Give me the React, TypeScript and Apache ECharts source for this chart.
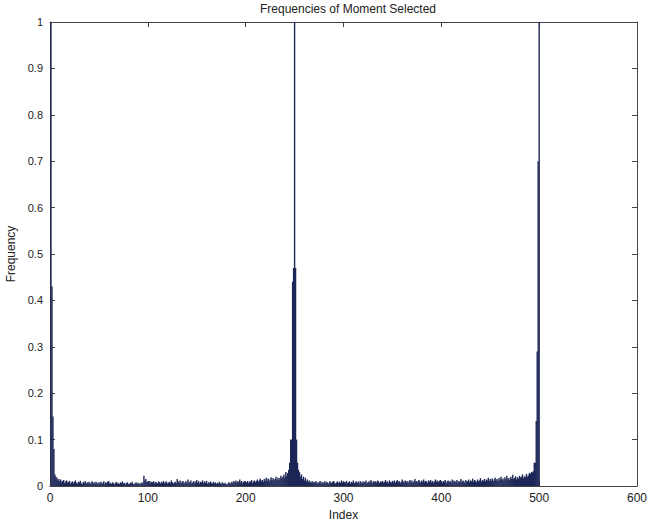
import React, { useEffect, useRef } from "react";
import * as echarts from "echarts";

const TITLE = "Frequencies of Moment Selected";
const X_NAME = "Index";
const Y_NAME = "Frequency";

// Frequencies for index 1..500, in blocks of 50
const seg1 = [1.0, 0.43, 0.15, 0.08, 0.025, 0.02, 0.018, 0.012, 0.015, 0.01, 0.014, 0.008, 0.011, 0.013, 0.006, 0.01, 0.012, 0.007, 0.009, 0.011, 0.005, 0.008, 0.01, 0.006, 0.009, 0.012, 0.007, 0.005, 0.009, 0.008, 0.011, 0.006, 0.004, 0.009, 0.007, 0.01, 0.005, 0.008, 0.006, 0.009, 0.004, 0.007, 0.01, 0.006, 0.008, 0.005, 0.009, 0.007, 0.004, 0.008];
const seg2 = [0.006, 0.009, 0.005, 0.007, 0.01, 0.004, 0.008, 0.006, 0.009, 0.011, 0.005, 0.007, 0.004, 0.008, 0.006, 0.003, 0.007, 0.009, 0.005, 0.006, 0.004, 0.008, 0.006, 0.01, 0.005, 0.007, 0.003, 0.006, 0.008, 0.005, 0.004, 0.007, 0.006, 0.009, 0.005, 0.003, 0.006, 0.008, 0.005, 0.007, 0.004, 0.006, 0.005, 0.008, 0.006, 0.022, 0.012, 0.015, 0.008, 0.01];
const seg3 = [0.007, 0.011, 0.006, 0.009, 0.008, 0.01, 0.005, 0.009, 0.007, 0.006, 0.01, 0.008, 0.005, 0.009, 0.007, 0.011, 0.006, 0.008, 0.01, 0.005, 0.007, 0.009, 0.006, 0.012, 0.008, 0.005, 0.007, 0.009, 0.006, 0.015, 0.01, 0.007, 0.012, 0.006, 0.009, 0.011, 0.005, 0.008, 0.01, 0.006, 0.014, 0.007, 0.009, 0.012, 0.005, 0.008, 0.011, 0.006, 0.009, 0.013];
const seg4 = [0.007, 0.01, 0.005, 0.009, 0.008, 0.012, 0.006, 0.01, 0.007, 0.011, 0.005, 0.008, 0.006, 0.01, 0.007, 0.005, 0.009, 0.006, 0.008, 0.004, 0.007, 0.005, 0.009, 0.006, 0.004, 0.008, 0.006, 0.005, 0.007, 0.004, 0.003, 0.006, 0.008, 0.005, 0.007, 0.009, 0.006, 0.011, 0.008, 0.012, 0.007, 0.01, 0.009, 0.014, 0.008, 0.011, 0.006, 0.009, 0.01, 0.007];
const seg5 = [0.008, 0.011, 0.006, 0.01, 0.009, 0.013, 0.007, 0.01, 0.012, 0.008, 0.011, 0.014, 0.009, 0.012, 0.016, 0.01, 0.013, 0.009, 0.015, 0.011, 0.018, 0.012, 0.016, 0.01, 0.014, 0.019, 0.013, 0.017, 0.012, 0.015, 0.02, 0.014, 0.018, 0.013, 0.017, 0.022, 0.016, 0.02, 0.025, 0.018, 0.03, 0.022, 0.028, 0.035, 0.05, 0.1, 0.1, 0.44, 0.47, 1.0];
const seg6 = [0.47, 0.1, 0.05, 0.035, 0.03, 0.02, 0.025, 0.015, 0.02, 0.012, 0.018, 0.01, 0.014, 0.008, 0.012, 0.009, 0.007, 0.011, 0.006, 0.009, 0.008, 0.01, 0.005, 0.008, 0.007, 0.011, 0.006, 0.009, 0.005, 0.008, 0.01, 0.006, 0.009, 0.007, 0.005, 0.01, 0.008, 0.006, 0.009, 0.011, 0.007, 0.005, 0.008, 0.01, 0.006, 0.009, 0.007, 0.012, 0.008, 0.006];
const seg7 = [0.009, 0.007, 0.011, 0.006, 0.008, 0.01, 0.005, 0.009, 0.007, 0.012, 0.006, 0.008, 0.01, 0.007, 0.009, 0.005, 0.011, 0.008, 0.006, 0.01, 0.007, 0.009, 0.012, 0.006, 0.008, 0.01, 0.007, 0.013, 0.009, 0.006, 0.011, 0.008, 0.01, 0.007, 0.012, 0.009, 0.006, 0.01, 0.008, 0.011, 0.007, 0.009, 0.013, 0.008, 0.01, 0.006, 0.012, 0.009, 0.007, 0.011];
const seg8 = [0.008, 0.012, 0.007, 0.01, 0.013, 0.008, 0.011, 0.006, 0.009, 0.014, 0.01, 0.007, 0.012, 0.009, 0.011, 0.006, 0.01, 0.013, 0.008, 0.012, 0.007, 0.01, 0.015, 0.009, 0.011, 0.008, 0.013, 0.01, 0.007, 0.012, 0.009, 0.014, 0.008, 0.011, 0.01, 0.006, 0.012, 0.009, 0.013, 0.008, 0.011, 0.007, 0.01, 0.014, 0.009, 0.012, 0.008, 0.011, 0.013, 0.009];
const seg9 = [0.007, 0.011, 0.009, 0.013, 0.006, 0.01, 0.012, 0.008, 0.011, 0.007, 0.014, 0.009, 0.012, 0.008, 0.01, 0.013, 0.007, 0.011, 0.009, 0.015, 0.008, 0.012, 0.01, 0.007, 0.013, 0.009, 0.011, 0.014, 0.008, 0.012, 0.01, 0.016, 0.009, 0.013, 0.011, 0.008, 0.014, 0.01, 0.012, 0.017, 0.009, 0.013, 0.011, 0.015, 0.01, 0.014, 0.012, 0.018, 0.011, 0.015];
const seg10 = [0.012, 0.016, 0.01, 0.014, 0.018, 0.012, 0.015, 0.011, 0.017, 0.013, 0.02, 0.014, 0.016, 0.012, 0.019, 0.015, 0.022, 0.014, 0.017, 0.013, 0.02, 0.016, 0.024, 0.015, 0.018, 0.021, 0.014, 0.019, 0.016, 0.022, 0.018, 0.02, 0.025, 0.017, 0.021, 0.019, 0.026, 0.02, 0.023, 0.028, 0.026, 0.03, 0.029, 0.032, 0.05, 0.05, 0.14, 0.29, 0.7, 1.0];

const frequencies = [...seg1, ...seg2, ...seg3, ...seg4, ...seg5, ...seg6, ...seg7, ...seg8, ...seg9, ...seg10];

const X_MIN = 0;
const X_MAX = 600;
const X_STEP = 100;
const Y_MIN = 0;
const Y_MAX = 1;
const Y_STEP = 0.1;

export default function App() {
  const ref = useRef<HTMLDivElement>(null);

  useEffect(() => {
    if (!ref.current) return;
    const chart = echarts.init(ref.current, undefined, { renderer: "svg" });
    const font = "'Liberation Sans', Arial, Helvetica, sans-serif";
    const axisLine = { show: true, onZero: false, lineStyle: { color: "#444", width: 1 } };
    const axisTick = { show: true, inside: true, length: 5, lineStyle: { color: "#444" } };
    const data = frequencies.map((v, i) => [i + 1, v]);

    chart.setOption({
      animation: false,
      backgroundColor: "#fff",
      title: {
        text: TITLE,
        left: 343,
        textAlign: "center",
        top: -2,
        textStyle: { fontFamily: font, fontSize: 12, fontWeight: "normal", color: "#222" },
      },
      grid: { left: 50, right: 10, top: 22, bottom: 39, containLabel: false, outerBoundsMode: "none" },
      xAxis: [
        {
          type: "value",
          min: X_MIN,
          max: X_MAX,
          interval: X_STEP,
          name: X_NAME,
          nameLocation: "middle",
          nameGap: 23,
          nameTextStyle: { fontFamily: font, fontSize: 12, color: "#222" },
          axisLine,
          axisTick,
          splitLine: { show: false },
          axisLabel: { fontFamily: font, fontSize: 12, color: "#222", margin: 6 },
        },
        {
          type: "value",
          position: "top",
          min: X_MIN,
          max: X_MAX,
          interval: X_STEP,
          axisLine,
          axisTick,
          splitLine: { show: false },
          axisLabel: { show: false },
        },
      ],
      yAxis: [
        {
          type: "value",
          min: Y_MIN,
          max: Y_MAX,
          interval: Y_STEP,
          name: Y_NAME,
          nameLocation: "middle",
          nameGap: 30,
          nameTextStyle: { fontFamily: font, fontSize: 12, color: "#222" },
          axisLine,
          axisTick,
          splitLine: { show: false },
          axisLabel: {
            fontFamily: font,
            fontSize: 11,
            color: "#222",
            margin: 7,
            formatter: (v: number) => String(Math.round(v * 10) / 10),
          },
        },
        {
          type: "value",
          position: "right",
          min: Y_MIN,
          max: Y_MAX,
          interval: Y_STEP,
          axisLine,
          axisTick,
          splitLine: { show: false },
          axisLabel: { show: false },
        },
      ],
      series: [
        {
          type: "bar",
          xAxisIndex: 0,
          yAxisIndex: 0,
          data,
          barWidth: 1.4,
          itemStyle: { color: "#1d2757" },
          emphasis: { disabled: true },
        },
      ],
    });

    return () => chart.dispose();
  }, []);

  return <div ref={ref} style={{ width: 647, height: 525, position: "absolute", left: 0, top: 0 }} />;
}
